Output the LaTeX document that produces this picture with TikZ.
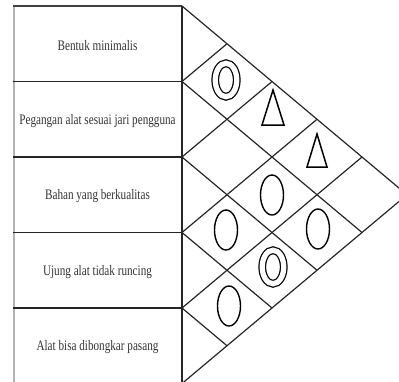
\documentclass[tikz,border=0pt]{standalone}
\usepackage{fontspec}
\setmainfont[FakeStretch=0.77]{Liberation Serif}
\usetikzlibrary{shapes.geometric}

\begin{document}
\begin{tikzpicture}[x=1pt, y=-1pt,
    need/.style={font=\fontsize{14.5}{16}\selectfont, text=black!80},
    grid/.style={line width=1.2pt, black!85},
    weak/.style={ellipse, draw, line width=1.4pt, minimum width=23pt, minimum height=40pt, inner sep=0pt},
    strong/.style={ellipse, draw, line width=1.25pt, double distance=5.3pt, minimum width=21.5pt, minimum height=33.5pt, inner sep=0pt},
    trisign/.style={line width=1.5pt, line join=miter}]
    \clip (0,0) rectangle (399,381);
    % left column
    \draw[black!30, line width=1.6pt] (14,6) -- (14,390);
    \draw[black!75, line width=1.8pt] (13,6) -- (182,6);
    \foreach \k in {1,...,4}
        \draw[black!85, line width=1.8pt] (13,{6+75.5*\k}) -- (182,{6+75.5*\k});
    \draw[grid] (182,6) -- (182,390);
    \foreach \t [count=\i] in {Bentuk minimalis, Pegangan alat sesuai jari pengguna,
        Bahan yang berkualitas, Ujung alat tidak runcing, Alat bisa dibongkar pasang}
        \node[need] (r\i) at (97.5,{7.5+75.5*(\i-0.5)}) {\t};
    % roof
    \foreach \k in {0,...,5}
        \coordinate (e\k) at (182,{6+75.5*\k});
    \foreach \k in {0,...,4}
        \draw[grid] (e\k) -- ++({45*(5-\k)},{37.75*(5-\k)});
    \foreach \k in {1,...,5}
        \draw[grid] (e\k) -- ++({45*\k},{-37.75*\k});
    % relations
    \node[strong] (c12) at (226,80) {};
    \node[strong] (c35) at (273,267) {};
    \node[weak] (c24) at (272,195) {};
    \node[weak] (c25) at (318,229) {};
    \node[weak] (c34) at (226,230) {};
    \node[weak] (c45) at (229,306) {};
    \coordinate (c13) at (273,90);
    \coordinate (c14) at (317,134);
    \draw[trisign] (c13) -- ++(11,35) -- ++(-22,0) -- cycle;
    \draw[trisign] (c14) -- ++(10,33) -- ++(-20,0) -- cycle;
\end{tikzpicture}
\end{document}
